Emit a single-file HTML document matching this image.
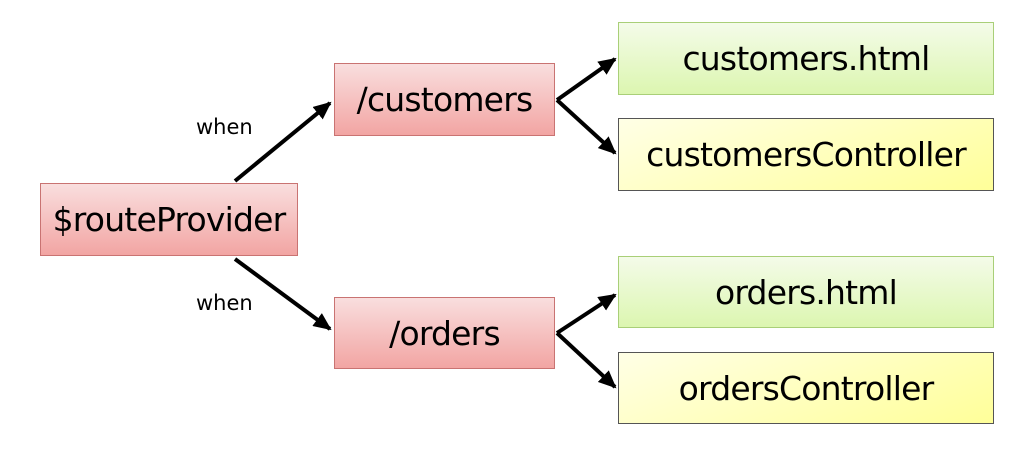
<!DOCTYPE html>
<html><head><style>
body{margin:0;width:1028px;height:474px;background:#fff;position:relative;overflow:hidden;font-family:"DejaVu Sans","Liberation Sans",sans-serif;}
.b{position:absolute;box-sizing:border-box;display:flex;align-items:center;justify-content:center;font-size:33px;color:#000;letter-spacing:-0.8px}
.r{background:linear-gradient(#f9dede,#f2a5a3);border:1px solid #c97372}
.g{background:linear-gradient(#f4fbe9,#dcf6b0);border:1px solid #a9cf78}
.y{background:linear-gradient(160deg,#ffffe6,#ffff99);border:1px solid #555}
.w{position:absolute;font-size:21px;color:#000}
svg{position:absolute;left:0;top:0}
</style></head><body>
<svg width="1028" height="474">
<defs><marker id="a" markerWidth="4.5" markerHeight="4" refX="4" refY="2" orient="auto" markerUnits="strokeWidth"><path d="M0,0 L4.5,2 L0,4 z" fill="#000"/></marker></defs>
<g stroke="#000" stroke-width="4" fill="none" marker-end="url(#a)">
<line x1="235" y1="181" x2="330" y2="103"/>
<line x1="235" y1="259" x2="330" y2="329"/>
<line x1="557" y1="100" x2="615" y2="59"/>
<line x1="557" y1="100" x2="615" y2="153"/>
<line x1="557" y1="333" x2="615" y2="295"/>
<line x1="557" y1="333" x2="615" y2="387"/>
</g>
</svg>
<div class="b r" style="left:40px;top:183px;width:258px;height:73px">$routeProvider</div>
<div class="b r" style="left:334px;top:63px;width:221px;height:73px">/customers</div>
<div class="b r" style="left:334px;top:297px;width:221px;height:72px">/orders</div>
<div class="b g" style="left:618px;top:22px;width:376px;height:73px">customers.html</div>
<div class="b y" style="left:618px;top:118px;width:376px;height:73px">customersController</div>
<div class="b g" style="left:618px;top:256px;width:376px;height:72px">orders.html</div>
<div class="b y" style="left:618px;top:352px;width:376px;height:72px">ordersController</div>
<div class="w" style="left:196px;top:115px">when</div>
<div class="w" style="left:196px;top:291px">when</div>
</body></html>
